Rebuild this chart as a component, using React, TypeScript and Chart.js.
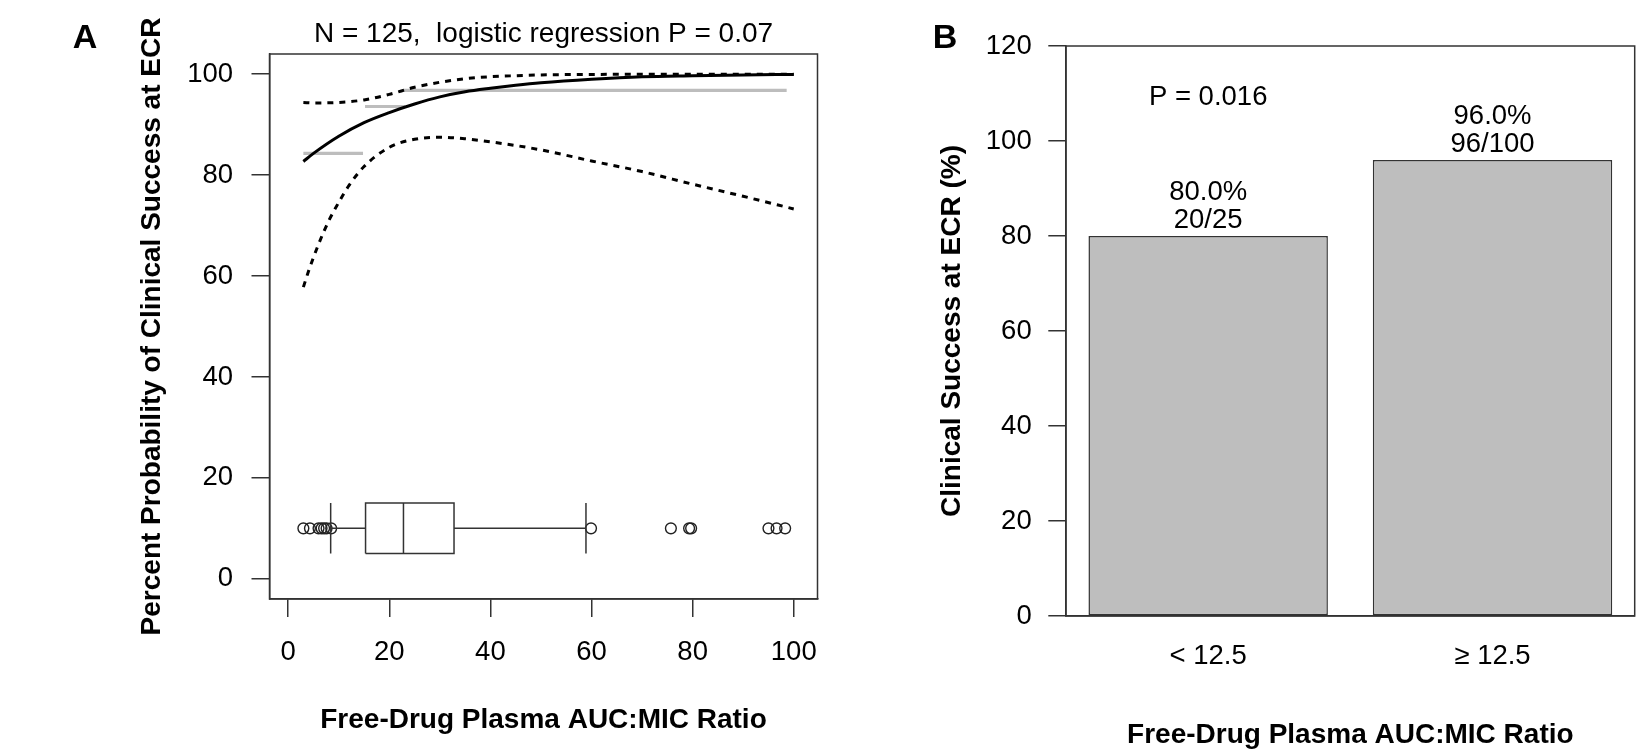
import React, { useEffect, useRef } from 'react';
import { Chart, registerables } from 'chart.js';

Chart.register(...registerables);

// ---------- Panel A data ----------
const fitX = [3, 5, 10, 15, 20, 25, 30, 35, 40, 45, 50, 60, 70, 80, 90, 100];
const fitY = [82.7, 84.3, 87.7, 90.4, 92.4, 94.1, 95.5, 96.5, 97.2, 97.8, 98.3, 99.0, 99.5, 99.7, 99.85, 99.95];
const upperX = [3, 5, 10, 15, 20, 25, 30, 35, 40, 45, 50, 60, 70, 80, 90, 100];
const upperY = [94.4, 94.3, 94.4, 94.9, 96.0, 97.4, 98.4, 99.1, 99.5, 99.7, 99.85, 99.95, 99.98, 100, 100, 100];
const lowerX = [3, 4, 5, 6, 7, 8, 10, 12, 15, 20, 25, 30, 35, 40, 50, 60, 70, 80, 90, 100];
const lowerY = [57.8, 60.9, 63.7, 66.3, 68.7, 70.9, 74.6, 77.9, 81.7, 85.5, 87.1, 87.5, 87.2, 86.6, 85.0, 82.8, 80.7, 78.2, 75.8, 73.3];

const groupStart = [3.0, 15.2, 22.8];
const groupEnd = [14.8, 23.1, 98.6];
const groupRate = [84.3, 93.6, 96.8];

const boxWhiskerLow = 8.4;
const boxQ1 = 15.3;
const boxMedian = 22.8;
const boxQ3 = 32.8;
const boxWhiskerHigh = 58.9;
const boxLevel = 10;
const boxHalfHeight = 5;
const outliers = [3.0, 4.3, 6.0, 6.6, 7.1, 7.6, 8.5, 59.9, 75.7, 79.3, 79.7, 95.0, 96.6, 98.3];

const xTicksA = [0, 20, 40, 60, 80, 100];
const yTicksA = [0, 20, 40, 60, 80, 100];

const titleA = 'N = 125,  logistic regression P = 0.07';
const yTitleA = 'Percent Probability of Clinical Success at ECR';
const xTitle = 'Free-Drug Plasma AUC:MIC Ratio';

// ---------- Panel B data ----------
const barCategories = ['< 12.5', '\u2265 12.5'];
const barValues = [80.0, 96.0];
const barSuccesses = [20, 96];
const barTotals = [25, 100];
const yTicksB = [0, 20, 40, 60, 80, 100, 120];
const pValueText = 'P = 0.016';
const pValueAt = 107.6;
const yTitleB = 'Clinical Success at ECR (%)';

const FONT = '"Liberation Sans", Arial, Helvetica, sans-serif';
const AXIS = '#333333';

const pts = (xs: number[], ys: number[]) => xs.map((x, i) => ({ x, y: ys[i] }));

function lineDs(data: any[], extra: any = {}) {
  return {
    type: 'line',
    data,
    showLine: true,
    borderColor: '#000',
    borderWidth: 1.5,
    pointRadius: 0,
    tension: 0,
    fill: false,
    ...extra,
  };
}

export default function App() {
  const refA = useRef<HTMLCanvasElement>(null);
  const refB = useRef<HTMLCanvasElement>(null);

  useEffect(() => {
    // ---------------- Panel A ----------------
    const datasetsA: any[] = [
      lineDs(pts(fitX, fitY), { borderWidth: 3, cubicInterpolationMode: 'monotone' }),
      lineDs(pts(upperX, upperY), { borderWidth: 3, borderDash: [6, 6], cubicInterpolationMode: 'monotone' }),
      lineDs(pts(lowerX, lowerY), { borderWidth: 3, borderDash: [6, 6], cubicInterpolationMode: 'monotone' }),
      ...groupRate.map((r, i) =>
        lineDs([{ x: groupStart[i], y: r }, { x: groupEnd[i], y: r }], { borderColor: '#bdbdbd', borderWidth: 3.2 })
      ),
      lineDs([
        { x: boxQ1, y: boxLevel - boxHalfHeight },
        { x: boxQ3, y: boxLevel - boxHalfHeight },
        { x: boxQ3, y: boxLevel + boxHalfHeight },
        { x: boxQ1, y: boxLevel + boxHalfHeight },
        { x: boxQ1, y: boxLevel - boxHalfHeight },
      ], { borderColor: AXIS }),
      lineDs([{ x: boxMedian, y: boxLevel - boxHalfHeight }, { x: boxMedian, y: boxLevel + boxHalfHeight }], { borderColor: AXIS }),
      lineDs([{ x: boxWhiskerLow, y: boxLevel }, { x: boxQ1, y: boxLevel }], { borderColor: AXIS }),
      lineDs([{ x: boxQ3, y: boxLevel }, { x: boxWhiskerHigh, y: boxLevel }], { borderColor: AXIS }),
      lineDs([{ x: boxWhiskerLow, y: boxLevel - boxHalfHeight }, { x: boxWhiskerLow, y: boxLevel + boxHalfHeight }], { borderColor: AXIS }),
      lineDs([{ x: boxWhiskerHigh, y: boxLevel - boxHalfHeight }, { x: boxWhiskerHigh, y: boxLevel + boxHalfHeight }], { borderColor: AXIS }),
      {
        type: 'scatter',
        data: outliers.map((x) => ({ x, y: boxLevel })),
        showLine: false,
        pointStyle: 'circle',
        pointRadius: 5.4,
        pointBackgroundColor: 'rgba(0,0,0,0)',
        pointBorderColor: '#222',
        pointBorderWidth: 1.4,
      },
    ];

    const decorA = {
      id: 'decorA',
      afterDraw(chart: any) {
        const { ctx, chartArea } = chart;
        const { left, right, top, bottom } = chartArea;
        const cx = (left + right) / 2;
        const cy = (top + bottom) / 2;
        ctx.save();
        ctx.strokeStyle = AXIS;
        ctx.lineWidth = 1.5;
        ctx.strokeRect(left, top, right - left, bottom - top);
        ctx.fillStyle = '#000';
        ctx.textAlign = 'center';
        ctx.textBaseline = 'alphabetic';
        ctx.font = `28px ${FONT}`;
        ctx.fillText(titleA, cx, 42);
        ctx.font = `bold 28px ${FONT}`;
        ctx.fillText(xTitle, cx, 728);
        ctx.save();
        ctx.translate(160, cy);
        ctx.rotate(-Math.PI / 2);
        ctx.fillText(yTitleA, 0, 0);
        ctx.restore();
        ctx.font = `bold 34px ${FONT}`;
        ctx.fillText('A', 85, 48);
        ctx.restore();
      },
    };

    const chartA = new Chart(refA.current as HTMLCanvasElement, {
      type: 'scatter',
      data: { datasets: datasetsA },
      options: {
        responsive: false,
        animation: false,
        events: [],
        layout: { padding: { left: 0, top: 54, right: 12.5, bottom: 0 } },
        plugins: { legend: { display: false }, tooltip: { enabled: false }, title: { display: false } },
        scales: {
          x: {
            type: 'linear',
            min: -3.7,
            max: 104.7,
            afterBuildTicks: (s: any) => { s.ticks = xTicksA.map((v) => ({ value: v })); },
            afterFit: (s: any) => { s.height = 752 - 599; s.paddingLeft = 0; s.paddingRight = 0; },
            grid: { drawOnChartArea: false, drawTicks: true, tickLength: 18, color: AXIS, lineWidth: 1.5 },
            border: { display: true, color: AXIS, width: 1.5 },
            ticks: { font: { family: FONT, size: 27.5 }, color: '#000', padding: 19, maxRotation: 0, autoSkip: false },
          },
          y: {
            type: 'linear',
            min: -4,
            max: 104,
            afterBuildTicks: (s: any) => { s.ticks = yTicksA.map((v) => ({ value: v })); },
            afterFit: (s: any) => { s.width = 269.5; s.paddingTop = 0; s.paddingBottom = 0; },
            grid: { drawOnChartArea: false, drawTicks: true, tickLength: 18, color: AXIS, lineWidth: 1.5 },
            border: { display: true, color: AXIS, width: 1.5 },
            ticks: { font: { family: FONT, size: 27.5 }, color: '#000', padding: 18.4, autoSkip: false },
          },
        },
      } as any,
      plugins: [decorA],
    } as any);

    // ---------------- Panel B ----------------
    const decorB = {
      id: 'decorB',
      afterDraw(chart: any) {
        const { ctx, chartArea, scales } = chart;
        const { left, right, top, bottom } = chartArea;
        const cx = (left + right) / 2;
        const cy = (top + bottom) / 2;
        ctx.save();
        ctx.strokeStyle = AXIS;
        ctx.lineWidth = 1.5;
        ctx.strokeRect(left, top, right - left, bottom - top);
        ctx.fillStyle = '#000';
        ctx.textAlign = 'center';
        ctx.textBaseline = 'alphabetic';
        ctx.font = `27.5px ${FONT}`;
        barValues.forEach((v, i) => {
          const bx = scales.x.getPixelForValue(i);
          const by = scales.y.getPixelForValue(v);
          ctx.fillText(`${barSuccesses[i]}/${barTotals[i]}`, bx, by - 8);
          ctx.fillText(`${v.toFixed(1)}%`, bx, by - 36);
        });
        ctx.fillText(pValueText, scales.x.getPixelForValue(0), scales.y.getPixelForValue(pValueAt));
        ctx.font = `bold 28px ${FONT}`;
        ctx.fillText(xTitle, cx, 743);
        ctx.save();
        ctx.translate(130, cy);
        ctx.rotate(-Math.PI / 2);
        ctx.fillText(yTitleB, 0, 0);
        ctx.restore();
        ctx.font = `bold 34px ${FONT}`;
        ctx.fillText('B', 115, 48);
        ctx.restore();
      },
    };

    const chartB = new Chart(refB.current as HTMLCanvasElement, {
      type: 'bar',
      data: {
        labels: barCategories,
        datasets: [
          {
            data: barValues,
            backgroundColor: '#bebebe',
            borderColor: AXIS,
            borderWidth: 1.5,
            borderSkipped: false,
            barPercentage: 1,
            categoryPercentage: 0.842,
          },
        ],
      },
      options: {
        responsive: false,
        animation: false,
        events: [],
        layout: { padding: { left: 0, top: 46, right: 13.3, bottom: 0 } },
        plugins: { legend: { display: false }, tooltip: { enabled: false }, title: { display: false } },
        scales: {
          x: {
            type: 'category',
            offset: true,
            afterFit: (s: any) => { s.height = 752 - 616; s.paddingLeft = 0; s.paddingRight = 0; },
            grid: { display: true, drawOnChartArea: false, drawTicks: false, color: AXIS, lineWidth: 0 },
            border: { display: true, color: AXIS, width: 1.5 },
            ticks: { font: { family: FONT, size: 27.5 }, color: '#000', padding: 24, maxRotation: 0, autoSkip: false },
          },
          y: {
            type: 'linear',
            min: 0,
            max: 120,
            afterBuildTicks: (s: any) => { s.ticks = yTicksB.map((v) => ({ value: v })); },
            afterFit: (s: any) => { s.width = 236; s.paddingTop = 0; s.paddingBottom = 0; },
            grid: { drawOnChartArea: false, drawTicks: true, tickLength: 17.7, color: AXIS, lineWidth: 1.5 },
            border: { display: true, color: AXIS, width: 1.5 },
            ticks: { font: { family: FONT, size: 27.5 }, color: '#000', padding: 16.6, autoSkip: false },
          },
        },
      } as any,
      plugins: [decorB],
    } as any);

    return () => {
      chartA.destroy();
      chartB.destroy();
    };
  }, []);

  return (
    <div style={{ position: 'absolute', left: 0, top: 0, width: 1648, height: 752, background: '#fff' }}>
      <canvas ref={refA} width={830} height={752} style={{ position: 'absolute', left: 0, top: 0, width: 830, height: 752 }} />
      <canvas ref={refB} width={818} height={752} style={{ position: 'absolute', left: 830, top: 0, width: 818, height: 752 }} />
    </div>
  );
}
